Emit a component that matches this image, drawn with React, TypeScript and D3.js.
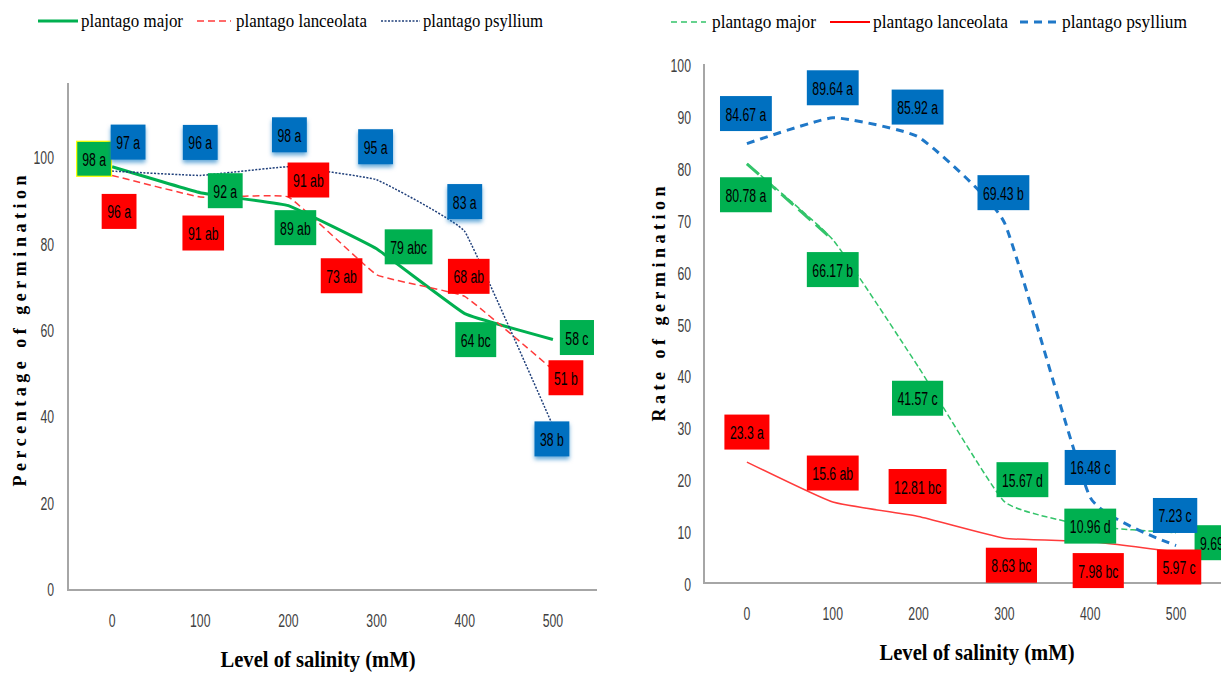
import React from 'react';
import * as d3 from 'd3';

// salinity levels (mM)
const salinity = ['0', '100', '200', '300', '400', '500'];

// left panel: percentage of germination
const pctMajor = [98, 92, 89, 79, 64, 58];
const pctLanceolata = [96, 91, 91, 73, 68, 51];
const pctPsyllium = [97, 96, 98, 95, 83, 38];
const pctMajorSig = ['a', 'a', 'ab', 'abc', 'bc', 'c'];
const pctLanceolataSig = ['a', 'ab', 'ab', 'ab', 'ab', 'b'];
const pctPsylliumSig = ['a', 'a', 'a', 'a', 'a', 'b'];
const pctTicks = [0, 20, 40, 60, 80, 100];

// right panel: rate of germination
const rateMajor = [80.78, 66.17, 41.57, 15.67, 10.96, 9.69];
const rateLanceolata = [23.3, 15.6, 12.81, 8.63, 7.98, 5.97];
const ratePsyllium = [84.67, 89.64, 85.92, 69.43, 16.48, 7.23];
const rateMajorSig = ['a', 'b', 'c', 'd', 'd', 'd'];
const rateLanceolataSig = ['a', 'ab', 'bc', 'bc', 'bc', 'c'];
const ratePsylliumSig = ['a', 'a', 'a', 'b', 'c', 'c'];
const rateTicks = [0, 10, 20, 30, 40, 50, 60, 70, 80, 90, 100];

const species = ['plantago major', 'plantago lanceolata', 'plantago psyllium'];

// hand-placed label nudges (px from the point), like the excel original
const pctNudge = [
  [[-18, -8], [25, -2], [7, 22], [32, -2], [11, 26], [24, -2]],
  [[7, 36], [3, 36], [20, -17], [-35, 1], [4, -20], [13, 8]],
  [[16, -29], [0, -33], [1, -32], [-1, -33], [0, -30], [-1, 13]],
];
const rateNudge = [
  [[-1, 31], [0, 30], [-1, 31], [18, -22], [0, 0], [41, 10]],
  [[0, -30], [0, -29], [-1, -30], [7, 27], [8, 29], [3, 15]],
  [[-1, -30], [0, -30], [-1, -30], [-1, -30], [0, -30], [-1, -30]],
];

const GREEN = '#00B050';
const RED = '#FF0000';
const BLUE = '#0070C0';
const AXIS = '#A6A6A6';
const SANS = "'Liberation Sans', Arial, sans-serif";
const SERIF = "'Liberation Serif', 'DejaVu Serif', serif";
const SQUEEZE = 0.68;

let ctx: CanvasRenderingContext2D | null = null;
function measure(t: string, size: number) {
  if (!ctx) ctx = document.createElement('canvas').getContext('2d');
  if (!ctx) return t.length * size * 0.5;
  ctx.font = `${size}px ${SANS}`;
  return ctx.measureText(t).width;
}

// calibri-ish narrow text
function Narrow({ x, y, text, size = 18, anchor = 'middle', fill = '#000' }: any) {
  return (
    <text x={x} y={y} textAnchor={anchor} dominantBaseline="central" fontFamily={SANS}
      fontSize={size} fill={fill} textLength={measure(text, size) * SQUEEZE}
      lengthAdjust="spacingAndGlyphs">{text}</text>
  );
}

function Box({ cx, cy, text, fill, stroke, glow }: any) {
  const w = measure(text, 18) * SQUEEZE + 11;
  const h = 35;
  return (
    <g>
      <rect x={cx - w / 2} y={cy - h / 2} width={w} height={h} fill={fill}
        stroke={stroke || 'none'} strokeWidth={stroke ? 1.2 : 0}
        filter={glow ? 'url(#glow)' : undefined} />
      <Narrow x={cx} y={cy + 1} text={text} size={18} />
    </g>
  );
}

const fmt = (v: number, s: string) => `${v} ${s}`;

function LeftPanel() {
  const x = d3.scaleBand().domain(salinity).range([68, 597]);
  const y = d3.scaleLinear().domain([0, 117.4]).range([590, 83]);
  const cx = (i: number) => (x(salinity[i]) as number) + x.bandwidth() / 2;
  const line = d3.line<number>().x((d, i) => cx(i)).y(d => y(d)).curve(d3.curveCardinal.tension(0.75));
  const series = [pctMajor, pctLanceolata, pctPsyllium];
  const sigs = [pctMajorSig, pctLanceolataSig, pctPsylliumSig];
  const fills = [GREEN, RED, BLUE];
  return (
    <g>
      <line x1={68} x2={68} y1={y.range()[1]} y2={y(0)} stroke={AXIS} strokeWidth={2} />
      <line x1={67} x2={597} y1={y(0)} y2={y(0)} stroke={AXIS} strokeWidth={2} />
      {pctTicks.map(t => (
        <Narrow key={t} x={54} y={y(t)} text={String(t)} anchor="end" fill="#404040" />
      ))}
      {salinity.map((s, i) => (
        <Narrow key={s} x={cx(i)} y={621} text={s} fill="#404040" />
      ))}
      <path d={line(pctMajor) || ''} fill="none" stroke={GREEN} strokeWidth={3} />
      <path d={line(pctLanceolata) || ''} fill="none" stroke="#FF3B3B" strokeWidth={1.5} strokeDasharray="7,4" />
      <path d={line(pctPsyllium) || ''} fill="none" stroke="#1F3F7A" strokeWidth={1.5} strokeDasharray="2,1.5" />
      {[0, 2, 1].map(k => series[k].map((v, i) => (
        <Box key={`${k}-${i}`} cx={cx(i) + pctNudge[k][i][0]} cy={y(v) + pctNudge[k][i][1]}
          text={fmt(v, sigs[k][i])} fill={fills[k]}
          stroke={k === 0 && i === 0 ? '#FFFF00' : undefined} glow={k === 2} />
      )))}
      <text transform="translate(26,331) rotate(-90)" textAnchor="middle" fontFamily={SERIF}
        fontWeight="bold" fontSize={18} textLength={311} lengthAdjust="spacing">Percentage of  germination</text>
      <text x={318} y={667} textAnchor="middle" fontFamily={SERIF} fontWeight="bold" fontSize={24}
        textLength={195} lengthAdjust="spacingAndGlyphs">Level of salinity (mM)</text>
      {/* legend */}
      <line x1={38} x2={78} y1={21} y2={21} stroke={GREEN} strokeWidth={3} />
      <text x={81} y={27} fontFamily={SERIF} fontSize={19} textLength={102} lengthAdjust="spacingAndGlyphs">{species[0]}</text>
      <line x1={197} x2={231} y1={21} y2={21} stroke="#FF3B3B" strokeWidth={1.5} strokeDasharray="7,4" />
      <text x={236} y={27} fontFamily={SERIF} fontSize={19} textLength={131} lengthAdjust="spacingAndGlyphs">{species[1]}</text>
      <line x1={381} x2={420} y1={21} y2={21} stroke="#1F3F7A" strokeWidth={1.5} strokeDasharray="2,1.5" />
      <text x={423} y={27} fontFamily={SERIF} fontSize={19} textLength={120} lengthAdjust="spacingAndGlyphs">{species[2]}</text>
    </g>
  );
}

function RightPanel() {
  const x = d3.scaleBand().domain(salinity).range([704, 1219]);
  const y = d3.scaleLinear().domain([0, 100]).range([583, 64]);
  const cx = (i: number) => (x(salinity[i]) as number) + x.bandwidth() / 2;
  const line = d3.line<number>().x((d, i) => cx(i)).y(d => y(d)).curve(d3.curveCardinal.tension(0.6));
  const series = [rateMajor, rateLanceolata, ratePsyllium];
  const sigs = [rateMajorSig, rateLanceolataSig, ratePsylliumSig];
  const fills = [GREEN, RED, BLUE];
  const firstSeg = line(rateMajor.slice(0, 2)) || '';
  return (
    <g>
      <line x1={704} x2={704} y1={y(100)} y2={y(0)} stroke={AXIS} strokeWidth={2} />
      <line x1={703} x2={1221} y1={y(0)} y2={y(0)} stroke={AXIS} strokeWidth={2} />
      {rateTicks.map(t => (
        <Narrow key={t} x={691} y={y(t) + 2} text={String(t)} anchor="end" fill="#404040" />
      ))}
      {salinity.map((s, i) => (
        <Narrow key={s} x={cx(i)} y={614} text={s} fill="#404040" />
      ))}
      <path d={line(rateMajor) || ''} fill="none" stroke="#33C46A" strokeWidth={1.5} strokeDasharray="6,3" />
      <path d={firstSeg} fill="none" stroke="#33C46A" strokeWidth={3} strokeDasharray="16,7" />
      <path d={line(rateLanceolata) || ''} fill="none" stroke="#FF3B3B" strokeWidth={1.5} />
      <path d={line(ratePsyllium) || ''} fill="none" stroke="#1F78C8" strokeWidth={3} strokeDasharray="8,6" />
      {[0, 2, 1].map(k => series[k].map((v, i) => (
        <Box key={`${k}-${i}`} cx={cx(i) + rateNudge[k][i][0]} cy={y(v) + rateNudge[k][i][1]}
          text={fmt(v, sigs[k][i])} fill={fills[k]} />
      )))}
      <text transform="translate(665,304) rotate(-90)" textAnchor="middle" fontFamily={SERIF}
        fontWeight="bold" fontSize={18} textLength={235} lengthAdjust="spacing">Rate of germination</text>
      <text x={977} y={660} textAnchor="middle" fontFamily={SERIF} fontWeight="bold" fontSize={24}
        textLength={195} lengthAdjust="spacingAndGlyphs">Level of salinity (mM)</text>
      {/* legend */}
      <line x1={671} x2={706} y1={22} y2={22} stroke="#33C46A" strokeWidth={1.5} strokeDasharray="6,4" />
      <text x={712} y={28} fontFamily={SERIF} fontSize={19} textLength={104} lengthAdjust="spacingAndGlyphs">{species[0]}</text>
      <line x1={830} x2={870} y1={22} y2={22} stroke={RED} strokeWidth={2} />
      <text x={873} y={28} fontFamily={SERIF} fontSize={19} textLength={135} lengthAdjust="spacingAndGlyphs">{species[1]}</text>
      <line x1={1020} x2={1059} y1={22} y2={22} stroke="#1F78C8" strokeWidth={3} strokeDasharray="8,6" />
      <text x={1062} y={28} fontFamily={SERIF} fontSize={19} textLength={125} lengthAdjust="spacingAndGlyphs">{species[2]}</text>
    </g>
  );
}

export default function App() {
  return (
    <svg width={1221} height={678} style={{ position: 'absolute', left: 0, top: 0, background: '#fff' }}>
      <defs>
        <filter id="glow" x="-30%" y="-30%" width="160%" height="170%">
          <feDropShadow dx={0} dy={3} stdDeviation={2} floodColor={BLUE} floodOpacity={0.6} />
        </filter>
      </defs>
      <rect width={1221} height={678} fill="#fff" />
      <LeftPanel />
      <RightPanel />
    </svg>
  );
}
